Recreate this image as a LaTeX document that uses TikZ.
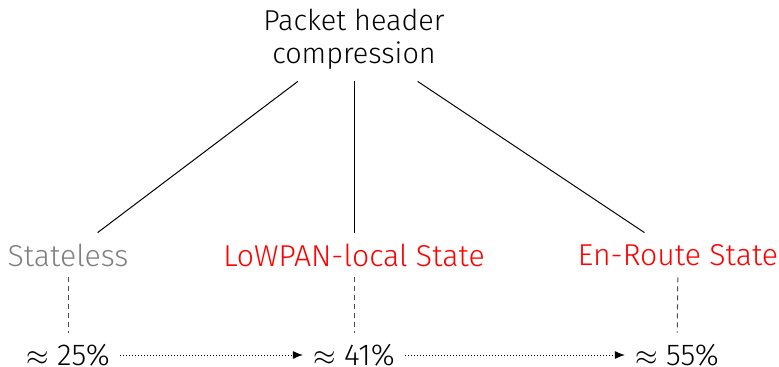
\documentclass[tikz,border=0pt]{standalone}
\usepackage{fontspec}
\setmainfont{Fira Sans Light}
\usetikzlibrary{arrows.meta}
\begin{document}
\begin{tikzpicture}[x=0.5pt,y=-0.5pt,
  every node/.style={font=\fontsize{15.1}{17}\selectfont, inner sep=5pt},
  lab/.style={minimum height=22pt},
  tree/.style={line width=0.5pt},
  dashline/.style={draw=black!70, line width=0.5pt, dash pattern=on 2.5pt off 2pt},
  dotline/.style={line width=0.5pt, dash pattern=on 0.5pt off 1pt, -{Latex[length=5pt,width=4pt]}}]
\useasboundingbox (0,0) rectangle (779,367);
\node[align=center, minimum height=42pt, font=\fontsize{14.4}{16.5}\selectfont] (root) at (354,39) {Packet header\\compression};
\node[lab, text=black!50] (sl) at (68,255) {Stateless};
\node[lab, text=red] (ll) at (354,255) {LoWPAN-local State};
\node[lab, text=red] (er) at (678,255) {En-Route State};
\node[lab] (p1) at (68,355) {$\approx$ 25\%};
\node[lab] (p2) at (354,355) {$\approx$ 41\%};
\node[lab] (p3) at (677,355) {$\approx$ 55\%};
\draw[tree] (root) -- (sl);
\draw[tree] (root) -- (ll);
\draw[tree] (root) -- (er);
\draw[dashline] (sl) -- (p1);
\draw[dashline] (ll) -- (p2);
\draw[dashline] (er) -- (p3);
\draw[dotline] (p1) -- (p2);
\draw[dotline] (p2) -- (p3);
\end{tikzpicture}
\end{document}
